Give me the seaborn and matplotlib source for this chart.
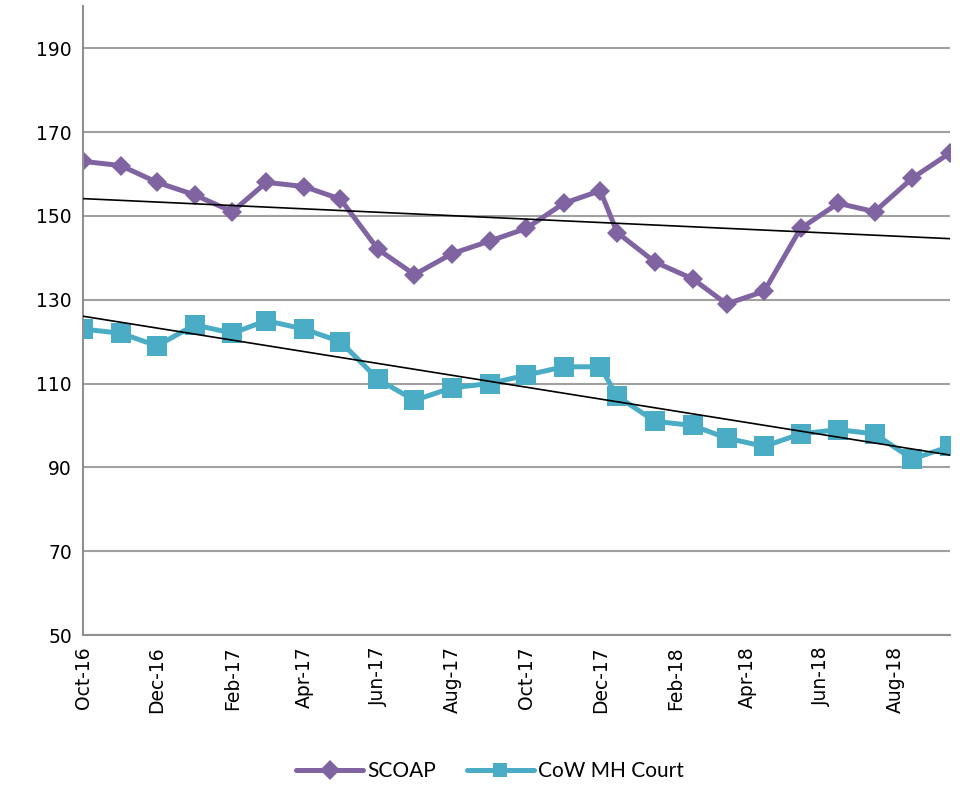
import pandas as pd
import numpy as np
import seaborn as sns
import matplotlib
matplotlib.use('Agg')
import matplotlib.pyplot as plt
import matplotlib.dates as mdates

# reporting dates: first of month to Dec-17, then mid-month
dates = (list(pd.date_range('2016-10-01', '2017-12-01', freq='MS'))
         + list(pd.date_range('2017-12-01', '2018-09-01', freq='MS') + pd.Timedelta(days=14)))
scoap = [163, 162, 158, 155, 151, 158, 157, 154, 142, 136, 141, 144, 147, 153, 156,
         146, 139, 135, 129, 132, 147, 153, 151, 159, 165]
cow_mh = [123, 122, 119, 124, 122, 125, 123, 120, 111, 106, 109, 110, 112, 114, 114,
          107, 101, 100, 97, 95, 98, 99, 98, 92, 95]
series_names = ['SCOAP', 'CoW MH Court']
colors = {'SCOAP': '#8064A2', 'CoW MH Court': '#4BACC6'}
yticks = [50, 70, 90, 110, 130, 150, 170, 190]

df = pd.concat([
    pd.DataFrame({'date': dates, 'value': scoap, 'series': 'SCOAP'}),
    pd.DataFrame({'date': dates, 'value': cow_mh, 'series': 'CoW MH Court'}),
])

sns.set_style('white')
plt.rcParams['font.family'] = ['DejaVu Sans']

fig = plt.figure(figsize=(9.6, 7.85), dpi=100)
ax = fig.add_axes([0.0865, 0.191, 0.903, 0.801])

sns.lineplot(data=df, x='date', y='value', hue='series', style='series',
             hue_order=series_names, style_order=series_names,
             palette=colors, markers={'SCOAP': 'D', 'CoW MH Court': 's'},
             dashes=False, linewidth=3.6, markersize=13, markeredgewidth=0,
             ax=ax, legend=True)
for line, ms in zip(ax.lines, [10.5, 14]):
    line.set_markersize(ms)

# linear trendlines
xnum = mdates.date2num(dates)
for vals in [scoap, cow_mh]:
    k, b = np.polyfit(xnum, vals, 1)
    ax.plot([dates[0], dates[-1]], [k * xnum[0] + b, k * xnum[-1] + b],
            color='black', linewidth=1.2, zorder=5)

ax.set_xlim(dates[0], dates[-1])
ax.set_ylim(50, 200)
ax.set_yticks(yticks)
ax.yaxis.grid(True, color='#A0A0A0', linewidth=1.5)
ax.set_axisbelow(True)
ax.xaxis.set_major_locator(mdates.MonthLocator(bymonth=[2, 4, 6, 8, 10, 12]))
ax.xaxis.set_major_formatter(mdates.DateFormatter('%b-%y'))
plt.xticks(rotation=90, fontsize=13.5)
plt.yticks(fontsize=13.5)
ax.tick_params(length=0, pad=8, labelcolor='black')
ax.set_xlabel('')
ax.set_ylabel('')
for s in ['top', 'right']:
    ax.spines[s].set_visible(False)
for s in ['left', 'bottom']:
    ax.spines[s].set_color('#909090')
    ax.spines[s].set_linewidth(1.5)

handles, labels = ax.get_legend_handles_labels()
ax.get_legend().remove()
fig.legend(handles, labels, loc='center', bbox_to_anchor=(490 / 960, 1 - 771 / 785),
           ncol=2, frameon=False, handlelength=3.2, columnspacing=1.5,
           handletextpad=0.2, markerscale=0.75, labelcolor='black',
           prop={'family': 'Lato', 'size': 15})

fig.savefig('out.png', dpi=100)
